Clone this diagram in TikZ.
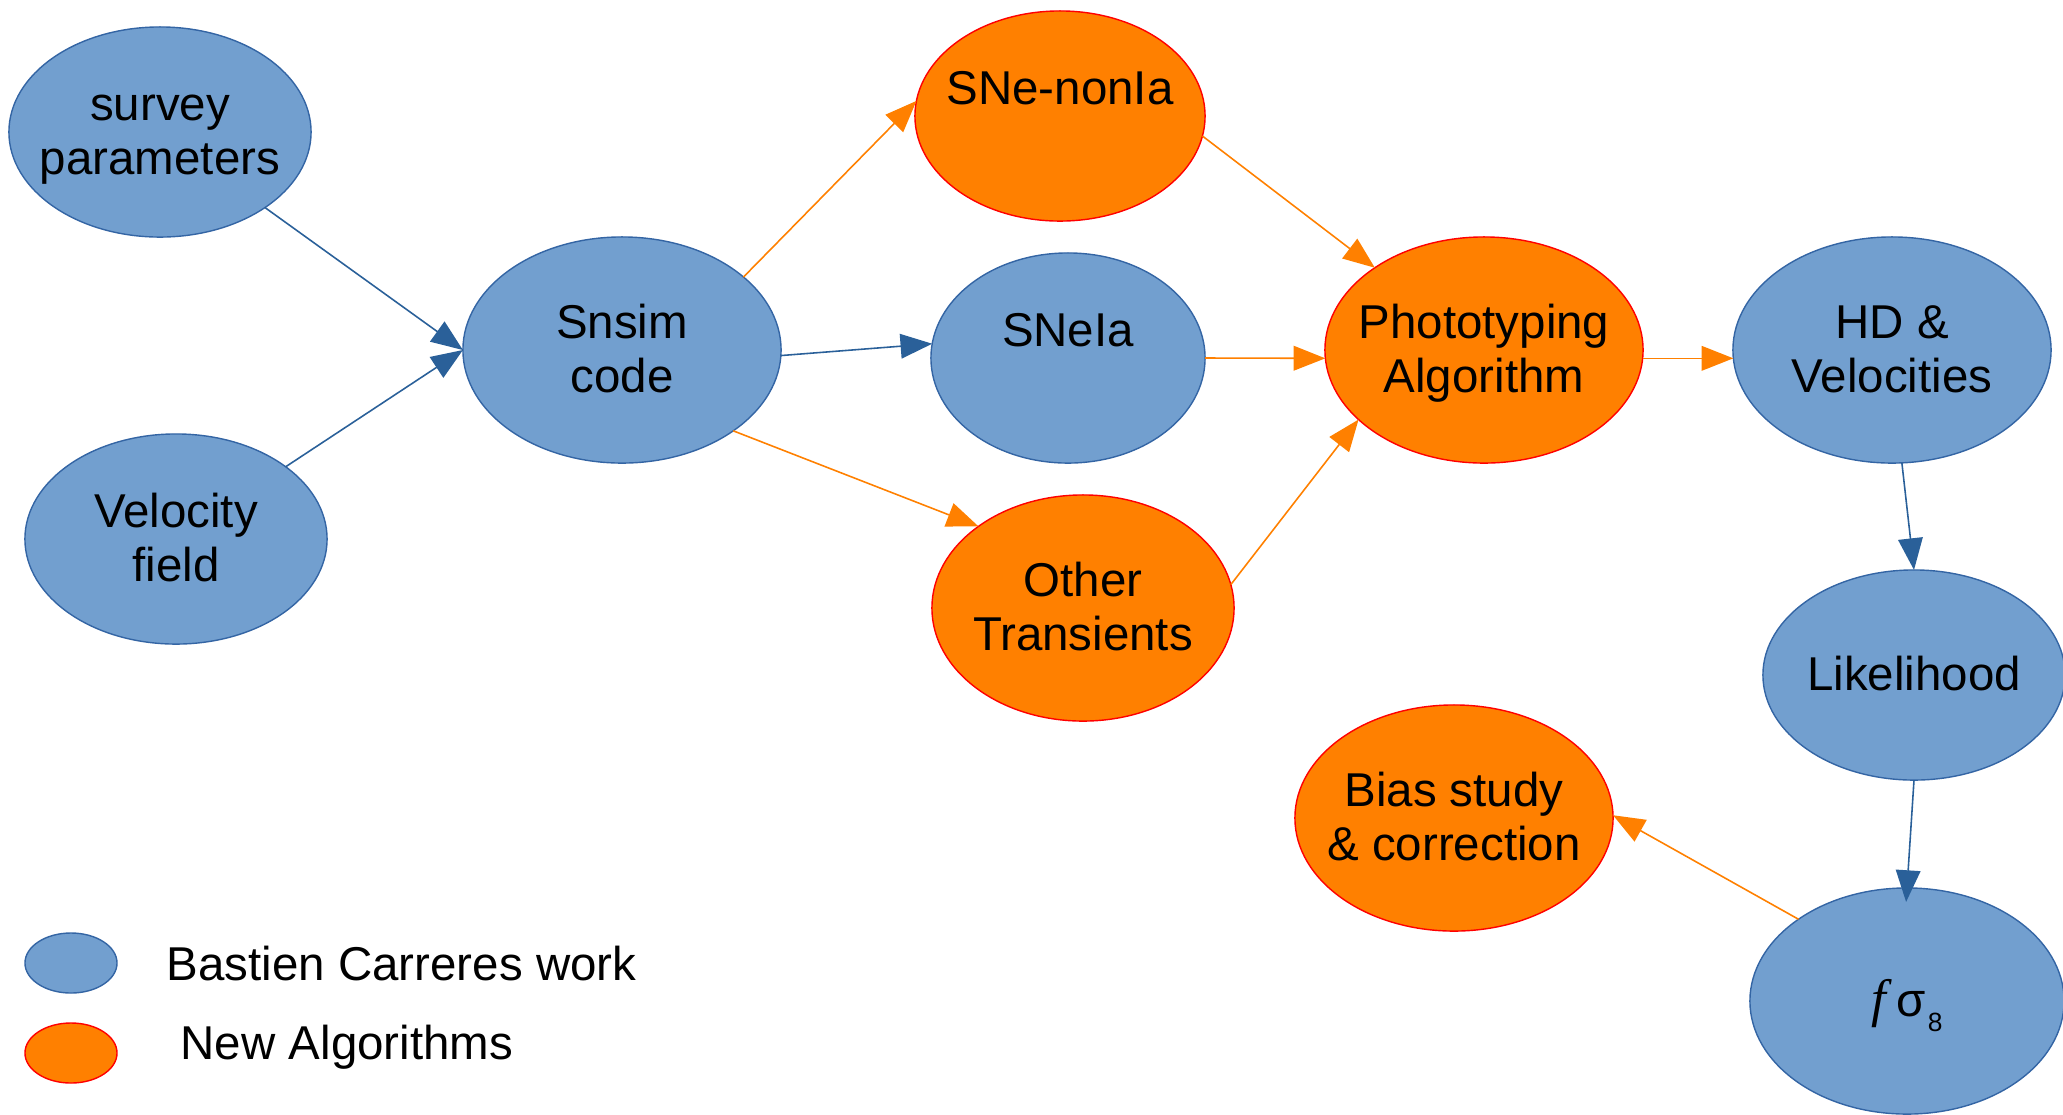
\documentclass[tikz,border=0pt]{standalone}
\usepackage{fontspec}
\setmainfont{Liberation Sans}
\newfontfamily\varfont{Liberation Serif}
\usetikzlibrary{arrows.meta,shapes.geometric}

\definecolor{blobblue}{HTML}{729FCF}
\definecolor{blobblueline}{HTML}{3465A4}
\definecolor{arrowblue}{HTML}{2A6099}
\definecolor{bloborange}{HTML}{FF8000}
\definecolor{bloborangeline}{HTML}{FF0000}

\begin{document}
\begin{tikzpicture}[x=0.01cm, y=-0.01cm,
	blob/.style={ellipse, inner sep=-0.5cm, outer sep=0pt, align=center, line width=0.4pt,
		text height=24.4pt, text depth=0pt, font=\fontsize{13.5}{15.6}\selectfont},
	oneline/.style={text height=8.8pt},
	bluenode/.style={blob, fill=blobblue, draw=blobblueline},
	orangenode/.style={blob, fill=bloborange, draw=bloborangeline},
	bignode/.style={minimum width=3.18cm, minimum height=2.26cm},
	smallnode/.style={minimum width=3.02cm, minimum height=2.1cm},
	legendnode/.style={minimum width=0.92cm, minimum height=0.6cm},
	legendtext/.style={anchor=west, inner sep=0pt, font=\fontsize{13.5}{15.6}\selectfont},
	bluearrow/.style={draw=arrowblue, line width=0.45pt, -{Triangle[length=9pt,width=7pt]}},
	orangearrow/.style={draw=bloborange, line width=0.45pt, -{Triangle[length=9pt,width=7pt]}}]
	\useasboundingbox (0,0) rectangle (2063,1114);

	\node[bluenode, smallnode] (survey) at (160,132) {survey\\parameters};
	\node[bluenode, smallnode] (velocity) at (176,539) {Velocity\\field};
	\node[bluenode, bignode] (snsim) at (622,350) {Snsim\\code};
	\node[orangenode, minimum width=2.9cm, minimum height=2.1cm] (nonia) at (1060,116) {SNe-nonIa\\\mbox{}};
	\node[bluenode, minimum width=2.74cm, minimum height=2.1cm] (sneia) at (1068,358) {SNeIa\\\mbox{}};
	\node[orangenode, minimum width=3.02cm, minimum height=2.26cm] (other) at (1083,608) {Other\\Transients};
	\node[orangenode, bignode] (photo) at (1484,350) {Phototyping\\Algorithm};
	\node[bluenode, bignode] (hd) at (1892,350) {HD \&\\Velocities};
	\node[bluenode, smallnode, oneline] (like) at (1914,675) {Likelihood};
	\node[orangenode, bignode] (bias) at (1454,818) {Bias study\\\& correction};
	\node[bluenode, oneline, minimum width=3.14cm, minimum height=2.26cm] (fsig) at (1907,1001)
		{{\varfont\itshape\fontsize{15}{16}\selectfont f}\hspace{3pt}{\fontsize{13.5}{14}\selectfont σ}\hspace{0.6pt}\raisebox{-4.2pt}{\fontsize{7.5}{8}\selectfont 8}};

	% legend
	\node[bluenode, legendnode] (legblue) at (71,963) {};
	\node[orangenode, legendnode] (legorange) at (71,1053) {};
	\node[legendtext] (legbluetext) at (166,964) {Bastien Carreres work};
	\node[legendtext] (legorangetext) at (180,1047) {New Algorithms};

	\draw[bluearrow] (survey) -- (snsim.west);
	\draw[bluearrow] (velocity) -- (snsim.west);
	\draw[orangearrow] (snsim.31) -- (nonia.174);
	\draw[bluearrow] (snsim.-2) -- (sneia.174);
	\draw[orangearrow] (snsim.-36) -- (other.142);

	\draw[orangearrow] (nonia.-8) -- (photo.143);
	\draw[orangearrow] (sneia.east) -- (photo.183);
	\draw[orangearrow] (other.9) -- (photo.209);
	\draw[orangearrow] (photo.-3) -- (hd.183);

	\draw[bluearrow] (hd.-85) -- (like.north);
	\draw[bluearrow, shorten >=-0.14cm] (like.south) -- (fsig.north);
	\draw[orangearrow] (fsig.143) -- (bias.1);
\end{tikzpicture}
\end{document}
